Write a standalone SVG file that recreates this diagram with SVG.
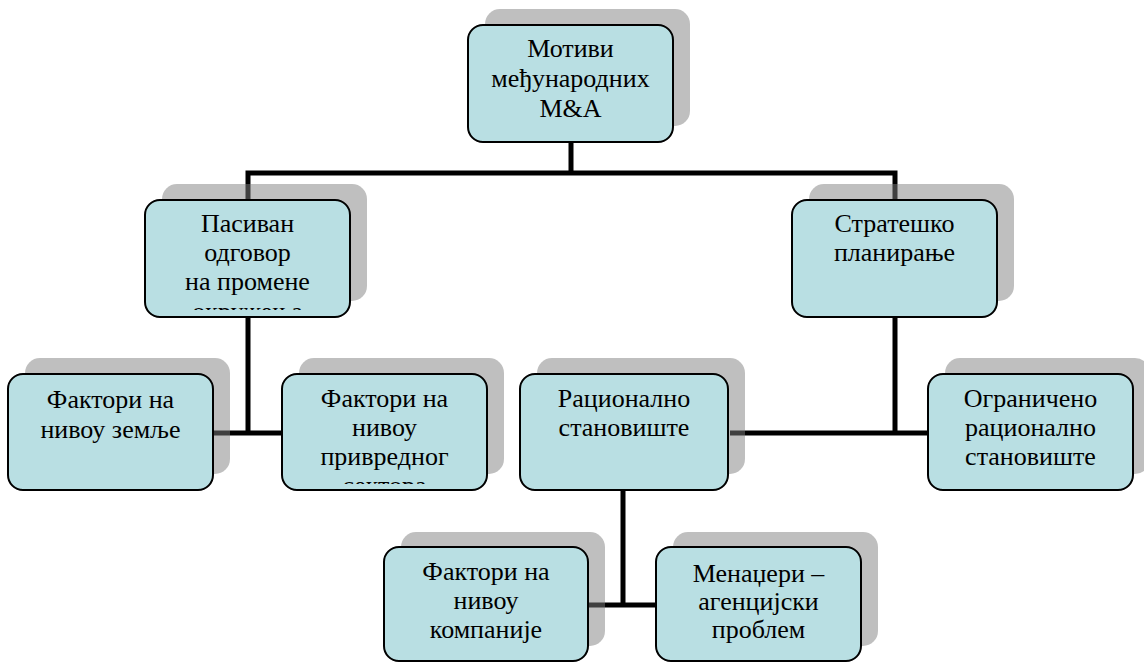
<svg xmlns="http://www.w3.org/2000/svg" width="1144" height="662" viewBox="0 0 1144 662">
<style>
.sh{fill:#808080;fill-opacity:0.5}
.bx{fill:#b9dfe3;stroke:#000;stroke-width:2}
text{font-family:'Liberation Serif','Times New Roman',serif;font-size:26px;fill:#000;text-anchor:middle}
.c{fill:none;stroke:#000;stroke-width:5}
</style>
<defs>
<clipPath id="cp2"><rect x="145" y="200" width="205" height="110"/></clipPath>
<clipPath id="cp5"><rect x="282" y="374" width="205" height="110"/></clipPath>
</defs>
<rect width="1144" height="662" fill="#fff"/>
<g id="connectors">
<path class="c" d="M248,200 V173 H895 V200 M571,142 V173"/>
<path class="c" d="M248,317 V433 M213,433 H282"/>
<path class="c" d="M895,317 V433 M730,433 H928"/>
<path class="c" d="M623,490 V605 M588,605 H656"/>
</g>
<g id="n1">
<rect class="sh" x="485" y="9" width="205" height="117" rx="15"/>
<rect class="bx" x="468" y="25" width="205" height="117" rx="15"/>
<text x="570.5" y="57">Мотиви</text>
<text x="570.5" y="87">међународних</text>
<text x="570.5" y="117">M&amp;A</text>
</g>
<g id="n2">
<rect class="sh" x="162" y="184" width="205" height="117" rx="15"/>
<rect class="bx" x="145" y="200" width="205" height="117" rx="15"/>
<text x="247.5" y="232">Пасиван</text>
<text x="247.5" y="261">одговор</text>
<text x="247.5" y="290">на промене</text>
<text x="247.5" y="320" clip-path="url(#cp2)">окружења</text>
</g>
<g id="n3">
<rect class="sh" x="809" y="184" width="205" height="117" rx="15"/>
<rect class="bx" x="792" y="200" width="205" height="117" rx="15"/>
<text x="894.5" y="232">Стратешко</text>
<text x="894.5" y="261">планирање</text>
</g>
<g id="n4">
<rect class="sh" x="25" y="358" width="205" height="116" rx="15"/>
<rect class="bx" x="8" y="374" width="205" height="116" rx="15"/>
<text x="110.5" y="408">Фактори на</text>
<text x="110.5" y="438">нивоу земље</text>
</g>
<g id="n5">
<rect class="sh" x="299" y="358" width="205" height="116" rx="15"/>
<rect class="bx" x="282" y="374" width="205" height="116" rx="15"/>
<text x="384.5" y="407">Фактори на</text>
<text x="384.5" y="436">нивоу</text>
<text x="384.5" y="465">привредног</text>
<text x="384.5" y="494" clip-path="url(#cp5)">сектора</text>
</g>
<g id="n6">
<rect class="sh" x="537" y="358" width="208" height="116" rx="15"/>
<rect class="bx" x="520" y="374" width="208" height="116" rx="15"/>
<text x="624" y="407">Рационално</text>
<text x="624" y="436">становиште</text>
</g>
<g id="n7">
<rect class="sh" x="945" y="358" width="205" height="116" rx="15"/>
<rect class="bx" x="928" y="374" width="205" height="116" rx="15"/>
<text x="1030.5" y="407">Ограничено</text>
<text x="1030.5" y="436">рационално</text>
<text x="1030.5" y="465">становиште</text>
</g>
<g id="n8">
<rect class="sh" x="401" y="532" width="204" height="114" rx="15"/>
<rect class="bx" x="384" y="547" width="204" height="114" rx="15"/>
<text x="486" y="580">Фактори на</text>
<text x="486" y="609">нивоу</text>
<text x="486" y="638">компаније</text>
</g>
<g id="n9">
<rect class="sh" x="673" y="532" width="205" height="114" rx="15"/>
<rect class="bx" x="656" y="547" width="205" height="114" rx="15"/>
<text x="758.5" y="582">Менаџери –</text>
<text x="758.5" y="610">агенцијски</text>
<text x="758.5" y="638">проблем</text>
</g>
</svg>
